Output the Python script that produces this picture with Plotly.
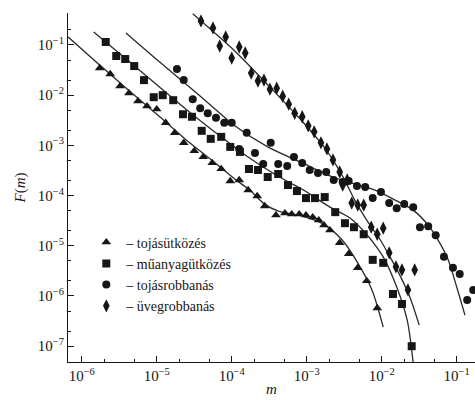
import numpy as np
import plotly.graph_objects as go

# ---- data (log10 values) ----
tri_logm = [-5.76, -5.62, -5.49, -5.37, -5.25, -5.13, -5.00, -4.88, -4.76, -4.64, -4.50, -4.38, -4.26,
            -4.14, -4.02, -3.90, -3.78, -3.66, -3.56, -3.41, -3.29, -3.20, -3.10, -3.01, -2.92, -2.84,
            -2.77, -2.69, -2.56, -2.44, -2.32, -2.20, -2.06]
tri_logF = [-1.46, -1.58, -1.82, -1.96, -2.12, -2.22, -2.28, -2.55, -2.75, -2.95, -3.11, -3.23, -3.35,
            -3.47, -3.71, -3.69, -3.89, -4.01, -4.21, -4.39, -4.35, -4.37, -4.37, -4.39, -4.43, -4.49,
            -4.59, -4.69, -4.94, -5.16, -5.44, -5.70, -6.24]

sq_logm = [-5.68, -5.54, -5.42, -5.30, -5.17, -5.04, -4.92, -4.78, -4.65, -4.53, -4.40, -4.28, -4.14,
           -4.02, -3.89, -3.77, -3.65, -3.52, -3.38, -3.25, -3.13, -3.01, -2.89, -2.76, -2.62, -2.49,
           -2.37, -2.24, -2.12, -1.98, -1.85, -1.73, -1.60]
sq_logF = [-0.94, -1.22, -1.28, -1.42, -1.70, -2.04, -2.00, -2.10, -2.38, -2.43, -2.71, -2.87, -2.83,
           -3.03, -3.13, -3.47, -3.49, -3.63, -3.57, -3.79, -3.91, -4.05, -4.05, -4.03, -4.33, -4.55,
           -4.63, -4.77, -5.28, -5.34, -5.96, -6.16, -7.00]

ci_logm = [-4.73, -4.64, -4.52, -4.42, -4.32, -4.21, -4.10, -4.00, -3.90, -3.80, -3.69, -3.58, -3.48,
           -3.38, -3.26, -3.17, -3.06, -2.96, -2.85, -2.74, -2.64, -2.52, -2.44, -2.33, -2.22, -2.12,
           -2.01, -1.90, -1.80, -1.70, -1.58, -1.49, -1.38, -1.28, -1.17, -1.05, -0.96, -0.86, -0.78]
ci_logF = [-1.48, -1.70, -2.08, -2.26, -2.36, -2.45, -2.55, -2.55, -3.07, -2.75, -3.15, -3.37, -2.95,
           -3.37, -3.41, -3.23, -3.35, -3.49, -3.55, -3.53, -3.69, -3.73, -3.71, -3.81, -3.83, -4.05,
           -3.93, -4.15, -4.25, -4.17, -4.23, -4.63, -4.61, -4.79, -5.22, -5.44, -5.56, -6.08, -5.88]

di_logm = [-4.41, -4.25, -4.08, -4.16, -4.00, -3.90, -3.82, -3.74, -3.65, -3.57, -3.49, -3.40, -3.32,
           -3.24, -3.16, -3.06, -2.98, -2.90, -2.81, -2.73, -2.65, -2.56, -2.46, -2.52, -2.40, -2.32,
           -2.24, -2.14, -2.06, -1.98, -1.90, -1.81, -1.73, -1.56, -1.65]
di_logF = [-0.52, -0.66, -0.84, -1.02, -1.26, -1.04, -1.16, -1.56, -1.72, -1.70, -1.88, -1.86, -2.02,
           -2.18, -2.36, -2.43, -2.61, -2.73, -2.95, -3.07, -3.29, -3.53, -3.69, -3.79, -4.15, -4.19,
           -4.19, -4.63, -4.77, -4.65, -5.14, -5.42, -5.48, -5.48, -5.88]

# fitted curves
tri_fit_logm = [-6.18, -5.76, -5.36, -4.96, -4.56, -4.22, -3.96, -3.76, -3.56, -3.38, -3.06, -2.80, -2.53, -2.32, -2.13, -1.98]
tri_fit_logF = [-0.84, -1.40, -1.92, -2.43, -2.95, -3.35, -3.67, -3.89, -4.17, -4.31, -4.41, -4.55, -4.88, -5.34, -5.88, -6.62]
sq_fit_logm = [-5.84, -5.36, -4.96, -4.56, -4.16, -3.82, -3.56, -3.29, -3.02, -2.69, -2.42, -2.25, -2.09, -1.98, -1.80, -1.66, -1.58]
sq_fit_logF = [-0.74, -1.34, -1.84, -2.34, -2.81, -3.19, -3.45, -3.69, -3.91, -4.23, -4.45, -4.69, -4.98, -5.22, -5.82, -6.48, -7.34]
ci_fit_logm = [-5.41, -4.96, -4.56, -4.22, -3.96, -3.52, -3.06, -2.62, -2.09, -1.82, -1.58, -1.36, -1.13, -1.00, -0.89]
ci_fit_logF = [-0.76, -1.34, -1.84, -2.28, -2.61, -3.03, -3.35, -3.65, -3.89, -4.09, -4.29, -4.63, -5.22, -5.82, -6.38]
di_fit_logm = [-4.52, -3.96, -3.49, -3.09, -2.76, -2.53, -2.36, -2.20, -2.02, -1.89, -1.76, -1.62, -1.50]
di_fit_logF = [-0.38, -1.12, -1.84, -2.47, -3.05, -3.59, -4.09, -4.49, -4.88, -5.22, -5.58, -6.04, -6.58]

series_names = ["tojásütközés", "műanyagütközés", "tojásrobbanás", "üvegrobbanás"]
x_tick_exp = [-6, -5, -4, -3, -2, -1]
y_tick_exp = [-1, -2, -3, -4, -5, -6, -7]

FONT = "Liberation Serif"
INK = "#161616"

def p(v):
    return 10 ** np.array(v)

fig = go.Figure()

fits = [(tri_fit_logm, tri_fit_logF), (sq_fit_logm, sq_fit_logF),
        (ci_fit_logm, ci_fit_logF), (di_fit_logm, di_fit_logF)]
for fx, fy in fits:
    fig.add_trace(go.Scatter(x=p(fx), y=p(fy), mode="lines", showlegend=False,
                             line=dict(color="#2a2a2a", width=1.3, shape="spline", smoothing=0.8),
                             hoverinfo="skip"))

pts = [(tri_logm, tri_logF, "triangle-up", 8.5),
       (sq_logm, sq_logF, "square", 8),
       (ci_logm, ci_logF, "circle", 8),
       (di_logm, di_logF, "diamond-tall", 9.5)]
for (mx, my, sym, sz), name in zip(pts, series_names):
    fig.add_trace(go.Scatter(x=p(mx), y=p(my), mode="markers", name="– " + name,
                             marker=dict(symbol=sym, size=sz, color=INK, line=dict(width=0))))

fig.update_layout(
    width=475, height=400,
    margin=dict(l=68, r=0, t=13, b=38),
    paper_bgcolor="white", plot_bgcolor="white",
    font=dict(family=FONT, size=15, color=INK),
    legend=dict(x=0.045, y=0.388, xanchor="left", yanchor="top", bgcolor="rgba(0,0,0,0)",
                font=dict(family=FONT, size=14, color=INK), itemwidth=30, tracegroupgap=0),
    xaxis=dict(type="log", range=[-6.183, -0.756], showline=True, linecolor=INK, linewidth=1,
               ticks="inside", ticklen=6, tickcolor=INK, showgrid=False, zeroline=False,
               tickvals=[10.0 ** e for e in x_tick_exp],
               ticktext=["10<sup>−%d</sup>" % (-e) for e in x_tick_exp],
               minor=dict(ticks="inside", ticklen=3, tickcolor=INK, showgrid=False),
               tickfont=dict(family=FONT, size=15, color=INK),
               title=dict(text="<i>m</i>", font=dict(family=FONT, size=15, color=INK), standoff=0)),
    yaxis=dict(type="log", range=[-7.315, -0.363], showline=True, linecolor=INK, linewidth=1,
               ticks="inside", ticklen=6, tickcolor=INK, showgrid=False, zeroline=False,
               tickvals=[10.0 ** e for e in y_tick_exp],
               ticktext=["10<sup>−%d</sup>" % (-e) for e in y_tick_exp],
               minor=dict(ticks="inside", ticklen=3, tickcolor=INK, showgrid=False),
               tickfont=dict(family=FONT, size=15, color=INK),
               title=dict(text="<i>F</i>(<i>m</i>)", font=dict(family=FONT, size=15, color=INK), standoff=8)),
)

fig.write_html("out.html")
